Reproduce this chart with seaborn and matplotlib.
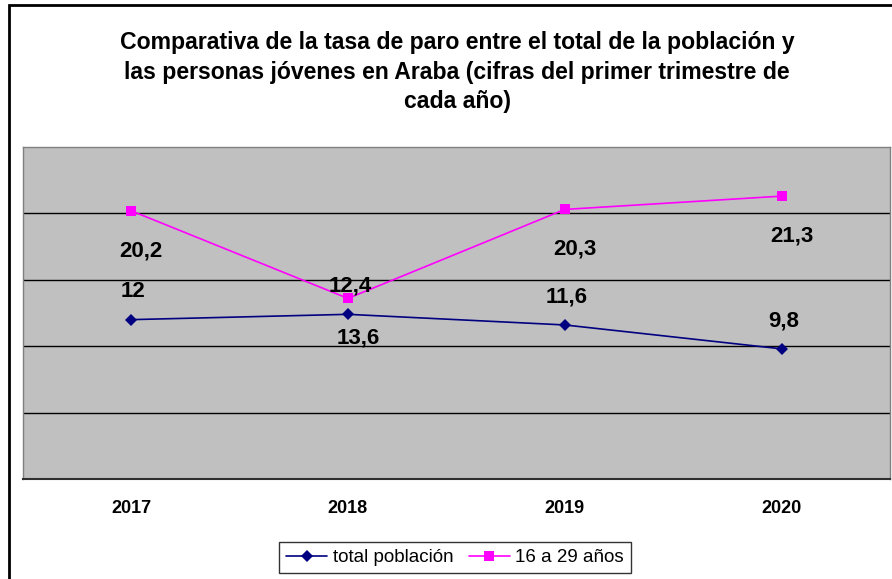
import pandas as pd
import numpy as np
import seaborn as sns
import matplotlib.pyplot as plt
from matplotlib.patches import Rectangle

# datos (primer trimestre de cada año)
years = ['2017', '2018', '2019', '2020']
total_poblacion = [12.0, 12.4, 11.6, 9.8]
jovenes_16_29 = [20.2, 13.6, 20.3, 21.3]
series_names = ['total población', '16 a 29 años']

df = pd.DataFrame({
    'pos': list(range(len(years))) * 2,
    'tasa': total_poblacion + jovenes_16_29,
    'serie': [series_names[0]] * len(years) + [series_names[1]] * len(years),
})

sns.set_style("white")
plt.rcParams['font.family'] = ['Liberation Sans', 'DejaVu Sans']
plt.rcParams['text.color'] = 'black'
plt.rcParams['xtick.color'] = 'black'

fig = plt.figure(figsize=(8.92, 5.79), dpi=100)
ax = fig.add_axes([22.7 / 892, 1 - 479 / 579, (890 - 22.7) / 892, (479 - 147) / 579])
ax.set_facecolor('#C0C0C0')

palette = {series_names[0]: '#000080', series_names[1]: '#FF00FF'}
markers = {series_names[0]: 'D', series_names[1]: 's'}
sns.lineplot(data=df, x='pos', y='tasa', hue='serie', style='serie', palette=palette,
             markers=markers, dashes=False, linewidth=1.2, markersize=6.5,
             markeredgewidth=0, ax=ax, legend=False, zorder=3)

ax.set_xlim(-0.5, len(years) - 0.5)
ax.set_ylim(0, 25)
ax.set_yticks([5, 10, 15, 20])
ax.yaxis.grid(True, color='black', linewidth=1)
ax.set_yticklabels([])
ax.tick_params(axis='y', length=0)

# etiquetas de categoria centradas, marcas entre categorias
ax.set_xticks(np.arange(-0.5, len(years)))
ax.set_xticklabels([])
ax.tick_params(axis='x', which='major', length=5, width=1, color='#404040', direction='out')
ax.set_xticks(np.arange(len(years)), minor=True)
ax.set_xticklabels(years, minor=True, fontsize=13, fontweight='bold', color='black')
ax.tick_params(axis='x', which='minor', length=0, pad=15)
ax.set_xlabel('')
ax.set_ylabel('')

for side in ['left', 'right', 'top']:
    ax.spines[side].set_color('#808080')
    ax.spines[side].set_linewidth(1)
ax.spines['bottom'].set_color('#303030')
ax.spines['bottom'].set_linewidth(1.5)

def fmt(v):
    return f"{v:g}".replace('.', ',')

for i, v in enumerate(total_poblacion):
    ax.annotate(fmt(v), (i, v), xytext=(2, 28), textcoords='offset pixels', color='black',
                ha='center', va='center', fontsize=16, fontweight='bold', zorder=4)
for i, v in enumerate(jovenes_16_29):
    ax.annotate(fmt(v), (i, v), xytext=(10, -40), textcoords='offset pixels', color='black',
                ha='center', va='center', fontsize=16, fontweight='bold', zorder=4)

fig.text(457 / 892, 1 - 72 / 579,
         'Comparativa de la tasa de paro entre el total de la población y\n'
         'las personas jóvenes en Araba (cifras del primer trimestre de\n'
         'cada año)',
         ha='center', va='center', fontsize=16.6, fontweight='bold', linespacing=1.38,
         color='black')

handles = [plt.Line2D([], [], color=palette[n], marker=markers[n], markersize=6.5,
                      markeredgewidth=0, linewidth=1.2) for n in series_names]
leg = fig.legend(handles, series_names, loc='center', bbox_to_anchor=(455 / 892, 1 - 557.5 / 579),
                 ncol=2, frameon=True, fontsize=13.5, fancybox=False, handlelength=2.2,
                 handletextpad=0.3, columnspacing=0.8, borderpad=0.35)
leg.get_frame().set_edgecolor('black')
leg.get_frame().set_linewidth(1)
for t in leg.get_texts():
    t.set_color('black')

fig.add_artist(Rectangle((8.5 / 892, -0.02), 1.05, 1 - 4.5 / 579 + 0.02, transform=fig.transFigure,
                         fill=False, edgecolor='black', linewidth=2, clip_on=False))

plt.savefig('out.png', dpi=100)
